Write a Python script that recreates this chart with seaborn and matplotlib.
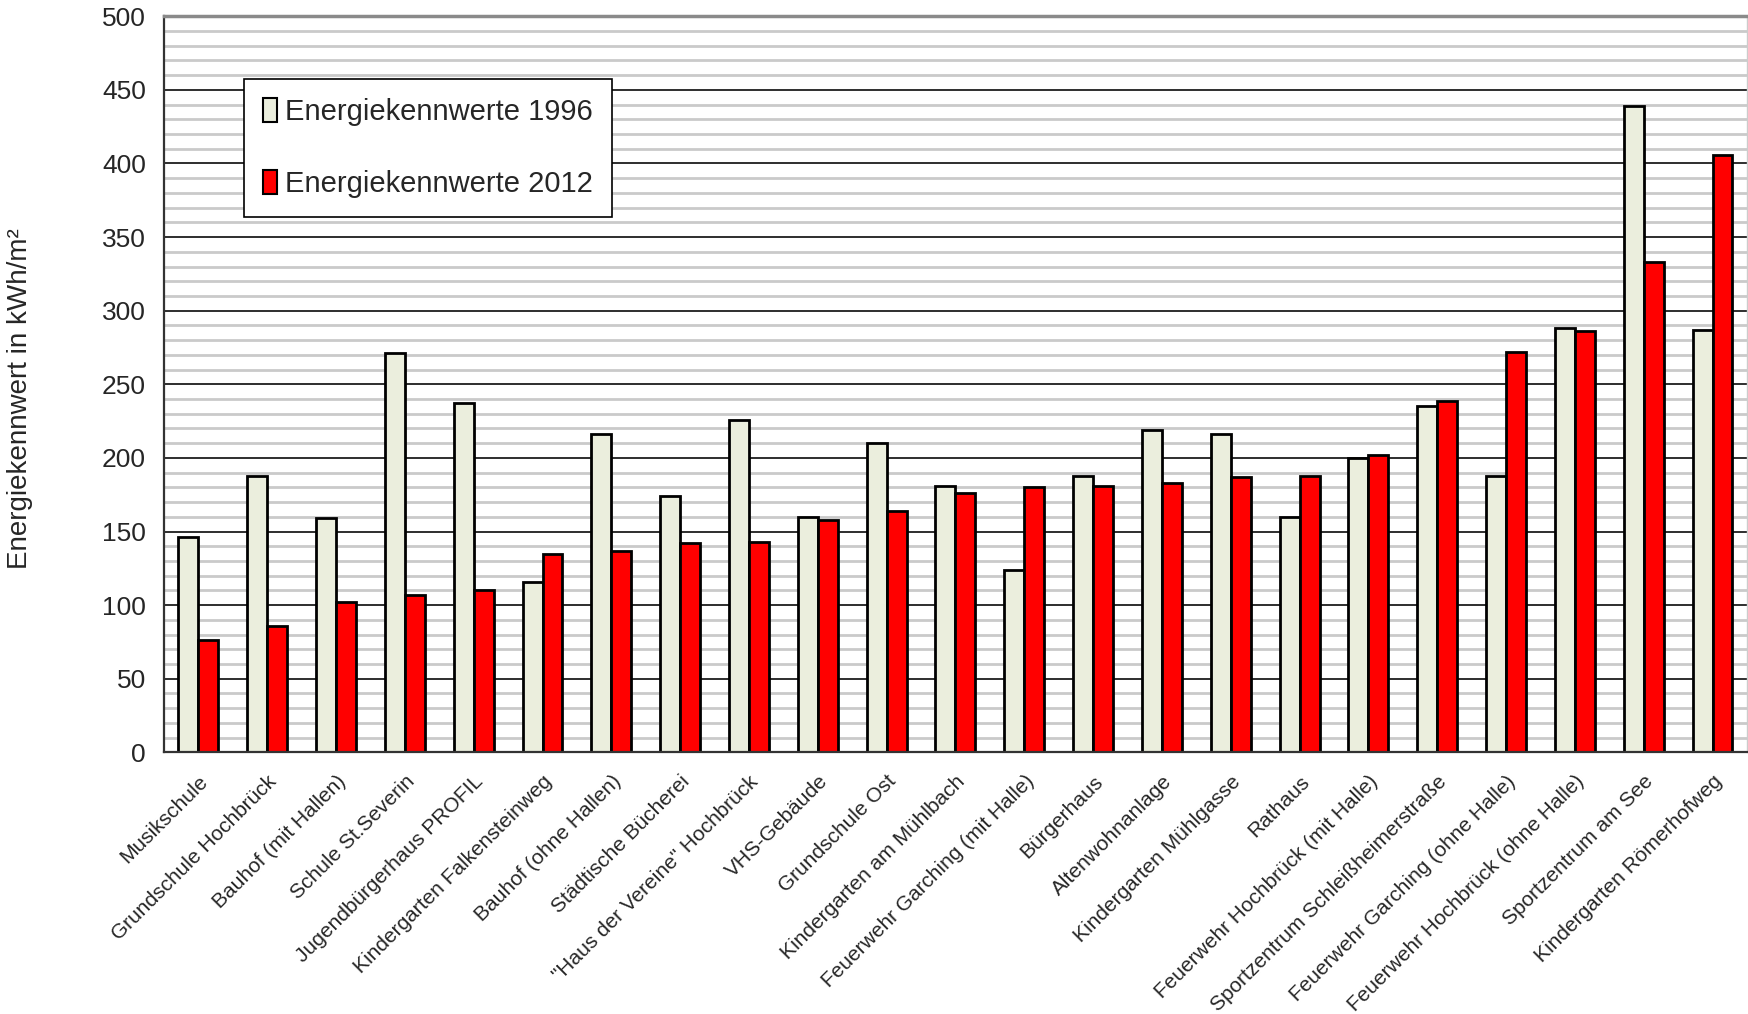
import matplotlib
matplotlib.use("Agg")
import matplotlib.pyplot as plt
from matplotlib.patches import Patch
import numpy as np
import pandas as pd
import seaborn as sns

gebaeude = [
    "Musikschule", "Grundschule Hochbrück", "Bauhof (mit Hallen)", "Schule St.Severin",
    "Jugendbürgerhaus PROFIL", "Kindergarten Falkensteinweg", "Bauhof (ohne Hallen)",
    "Städtische Bücherei", "\"Haus der Vereine\" Hochbrück", "VHS-Gebäude", "Grundschule Ost",
    "Kindergarten am Mühlbach", "Feuerwehr Garching (mit Halle)", "Bürgerhaus",
    "Altenwohnanlage", "Kindergarten Mühlgasse", "Rathaus", "Feuerwehr Hochbrück (mit Halle)",
    "Sportzentrum Schleißheimerstraße", "Feuerwehr Garching (ohne Halle)",
    "Feuerwehr Hochbrück (ohne Halle)", "Sportzentrum am See", "Kindergarten Römerhofweg",
]
werte_1996 = [146, 188, 159, 271, 237, 116, 216, 174, 226, 160, 210, 181, 124, 188,
              219, 216, 160, 200, 235, 188, 288, 439, 287]
werte_2012 = [76, 86, 102, 107, 110, 135, 137, 142, 143, 158, 164, 176, 180, 181,
              183, 187, 188, 202, 239, 272, 286, 333, 406]
serien = ["Energiekennwerte 1996", "Energiekennwerte 2012"]
farben = ["#EBEEDD", "#FF0000"]

df = pd.DataFrame({
    "Gebaeude": gebaeude * 2,
    "Wert": werte_1996 + werte_2012,
    "Serie": [serien[0]] * len(gebaeude) + [serien[1]] * len(gebaeude),
})

sns.set_style("white")
plt.rcParams["font.family"] = ["Liberation Sans", "DejaVu Sans"]

fig = plt.figure(figsize=(17.48, 10.14), dpi=100)
ax = fig.add_axes([0.0938, 0.258, 0.9056, 0.726])

sns.barplot(data=df, x="Gebaeude", y="Wert", hue="Serie", palette=farben, saturation=1,
            edgecolor="black", linewidth=2, width=0.58, gap=0, ax=ax, legend=False)

ax.set_xlim(-0.5, len(gebaeude) - 0.5)
ax.set_ylim(0, 500)
ax.set_yticks(range(0, 501, 50))
ax.set_yticks(range(0, 501, 10), minor=True)
ax.grid(which="minor", axis="y", color="#cacaca", lw=2)
ax.grid(which="major", axis="y", color="#1e1e1e", lw=1.3)
ax.set_axisbelow(True)
ax.tick_params(axis="y", which="major", direction="out", length=8, width=1.2,
               color="#333333", labelsize=19, pad=5)
ax.tick_params(axis="y", which="minor", length=0)

ax.set_xticks(range(len(gebaeude)))
ax.set_xticklabels(gebaeude, rotation=45, ha="right", rotation_mode="anchor", fontsize=15)
ax.set_xticks(np.arange(-0.5, len(gebaeude), 1), minor=True)
ax.tick_params(axis="x", which="major", length=0, pad=14)
ax.tick_params(axis="x", which="minor", direction="out", length=8, width=1.2, color="#333333")
ax.set_xlabel("")
ax.set_ylabel("Energiekennwert in kWh/m²", fontsize=20)
ax.yaxis.set_label_coords(-0.083, 0.48)

for s in ["left", "bottom"]:
    ax.spines[s].set_color("#333333")
    ax.spines[s].set_linewidth(1.6)
ax.spines["top"].set_color("#8a8a8a")
ax.spines["top"].set_linewidth(2.5)
ax.spines["right"].set_color("#cccccc")
ax.spines["right"].set_linewidth(1)

handles = [Patch(facecolor=c, edgecolor="black", linewidth=1.5) for c in farben]
leg = ax.legend(handles, serien, loc="upper left", bbox_to_anchor=(0.0505, 0.9145),
                borderaxespad=0, frameon=True, fancybox=False, framealpha=1,
                edgecolor="black", fontsize=21, handlelength=0.5, handleheight=0.9,
                handletextpad=0.25, labelspacing=1.5, borderpad=0.65)
leg.get_frame().set_linewidth(1.2)

fig.savefig("out.png", dpi=100)
